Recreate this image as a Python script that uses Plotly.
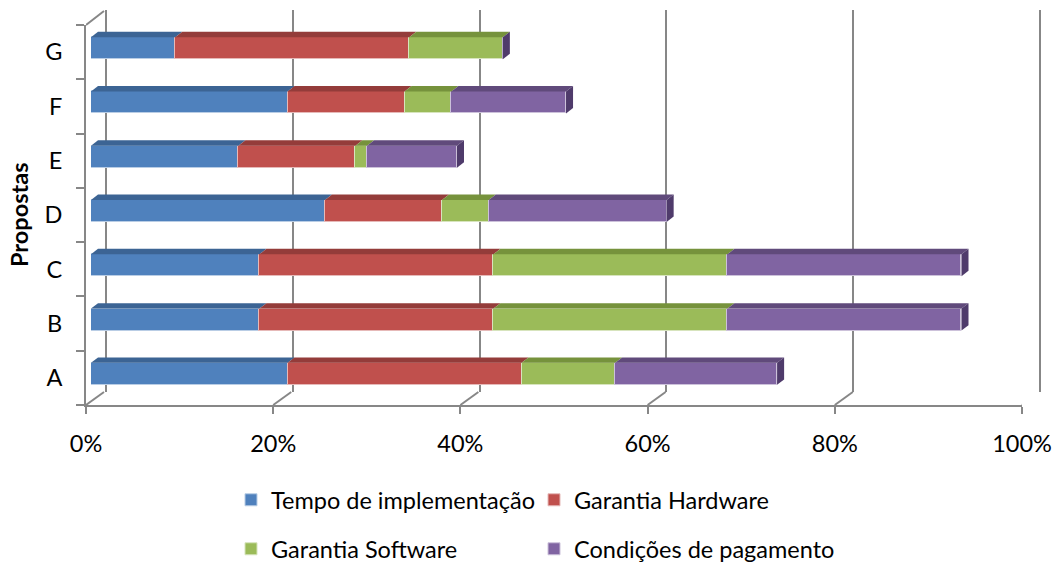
import plotly.graph_objects as go

# Propostas (bottom to top) and the share of each criterion, in %
propostas = ["A", "B", "C", "D", "E", "F", "G"]
tempo_implementacao = [21.0, 18.0, 18.0, 25.0, 15.75, 21.0, 9.0]
garantia_hardware = [25.0, 25.0, 25.0, 12.5, 12.5, 12.5, 25.0]
garantia_software = [10.0, 25.0, 25.0, 5.0, 1.25, 5.0, 10.0]
condicoes_pagamento = [17.3, 25.0, 25.0, 19.0, 9.6, 12.25, 0.0]
x_ticks = [0, 20, 40, 60, 80, 100]
x_tick_labels = ["0%", "20%", "40%", "60%", "80%", "100%"]

# name, values, face colour, top-face colour, edge tint
series = [
    ("Tempo de implementação", tempo_implementacao, "#4F81BD", "#3C6494", "#B9CDE5"),
    ("Garantia Hardware", garantia_hardware, "#C0504D", "#943C3A", "#E6B9B8"),
    ("Garantia Software", garantia_software, "#9BBB59", "#76923C", "#D7E4BD"),
    ("Condições de pagamento", condicoes_pagamento, "#8064A2", "#604A7B", "#CCC1DA"),
]
cap_colour = "#4F3B6B"
grid_colour = "#878787"

W, H = 1057, 565
FONT = "Lato"
FS = 23.5


def fx(p):
    return p / W


def fy(p):
    return 1 - p / H


fig = go.Figure()

# back wall subplot (holds only the gridlines)
fig.add_trace(go.Scatter(x=[], y=[], xaxis="x", yaxis="y", showlegend=False,
                         hoverinfo="skip"))

# stacked bars (front faces)
positions = list(range(len(propostas)))
for i, (name, vals, col, _, edge) in enumerate(series):
    fig.add_trace(go.Bar(
        y=positions, x=vals, name=name, orientation="h",
        marker=dict(color=col, line=dict(width=1, color=edge)),
        width=0.405, xaxis="x3", yaxis="y3",
        legend="legend" if i < 2 else "legend2",
    ))

# depth of the bars, in bar-axis units
DX, DY, BW = 0.75, 0.1, 0.405
shapes = []
for j in positions:
    left = 0.0
    top = j + BW / 2
    for name, vals, col, dark, _ in series:
        v = vals[j]
        if v > 0:
            x0, x1 = left, left + v
            shapes.append(dict(
                type="path", xref="x3", yref="y3", layer="above",
                path=f"M{x0},{top} L{x1},{top} L{x1 + DX},{top + DY} L{x0 + DX},{top + DY} Z",
                fillcolor=dark, line=dict(width=0),
            ))
        left += v
    bot = j - BW / 2
    shapes.append(dict(
        type="path", xref="x3", yref="y3", layer="above",
        path=f"M{left},{bot} L{left},{top} L{left + DX},{top + DY} L{left + DX},{bot + DY} Z",
        fillcolor=cap_colour, line=dict(width=0),
    ))

# floor edges joining the front axis to the back wall
for t in x_ticks:
    shapes.append(dict(
        type="line", xref="x2", yref="y2 domain",
        xsizemode="pixel", xanchor=t, x0=0, x1=18,
        ysizemode="pixel", yanchor=0, y0=0, y1=13,
        line=dict(color=grid_colour, width=2),
    ))
# top edge of the side wall
shapes.append(dict(
    type="line", xref="x2", yref="y2 domain",
    xsizemode="pixel", xanchor=0, x0=0, x1=18,
    ysizemode="pixel", yanchor=1, y0=0, y1=14,
    line=dict(color=grid_colour, width=2),
))

fig.update_layout(
    template="none",
    width=W, height=H, autosize=False,
    margin=dict(l=0, r=0, t=0, b=0, pad=0, autoexpand=False),
    paper_bgcolor="white", plot_bgcolor="rgba(0,0,0,0)",
    barmode="stack", bargap=0,
    font=dict(family=FONT, size=FS, color="#000000"),
    # back wall with its gridlines
    xaxis=dict(domain=[fx(104), fx(1042)], range=[-0.2, 100.2], anchor="y",
               showgrid=True, gridcolor=grid_colour, gridwidth=2,
               tickvals=x_ticks, showticklabels=False, ticks="",
               zeroline=False, showline=False, automargin=False),
    yaxis=dict(domain=[fy(392), fy(10)], range=[0, 1], anchor="x",
               showgrid=False, showticklabels=False, zeroline=False,
               ticks="", automargin=False),
    # front axes
    xaxis2=dict(domain=[fx(86), fx(1022)], range=[0, 100], anchor="y2",
                tickvals=x_ticks, ticktext=x_tick_labels, ticks="outside",
                ticklen=7, tickwidth=2, tickcolor=grid_colour, showline=True,
                linecolor=grid_colour, linewidth=2, showgrid=False,
                zeroline=False, ticklabelstandoff=10, automargin=False,
                tickfont=dict(family=FONT, size=FS)),
    yaxis2=dict(domain=[fy(405), fy(25)], range=[-0.5, 6.5], anchor="x2",
                tickvals=positions, ticktext=propostas, ticks="",
                showline=True, linecolor=grid_colour, linewidth=2,
                showgrid=False, zeroline=False, ticklabelstandoff=17,
                automargin=False, tickfont=dict(family=FONT, size=FS),
                minor=dict(ticks="outside", tick0=-0.5, dtick=1, ticklen=8,
                           tickwidth=2, tickcolor=grid_colour, showgrid=False)),
    # bars
    xaxis3=dict(domain=[fx(91), fx(1027)], range=[0, 100], anchor="y3",
                visible=False),
    yaxis3=dict(domain=[fy(401), fy(21)], range=[-0.5, 6.5], anchor="x3",
                visible=False),
    shapes=shapes,
    annotations=[dict(
        text="<b>Propostas</b>", textangle=-90, showarrow=False,
        xref="paper", yref="paper", x=fx(19), y=fy(215),
        xanchor="center", yanchor="middle",
        font=dict(family=FONT, size=FS, color="#000000"),
    )],
    legend=dict(orientation="h", x=fx(231), y=fy(500), xanchor="left",
                yanchor="middle", traceorder="normal",
                entrywidth=258, entrywidthmode="pixels",
                font=dict(family=FONT, size=FS), bgcolor="rgba(0,0,0,0)"),
    legend2=dict(orientation="h", x=fx(231), y=fy(549), xanchor="left",
                 yanchor="middle", traceorder="normal",
                 entrywidth=258, entrywidthmode="pixels",
                 font=dict(family=FONT, size=FS), bgcolor="rgba(0,0,0,0)"),
    showlegend=True,
)

fig.write_html("out.html")
